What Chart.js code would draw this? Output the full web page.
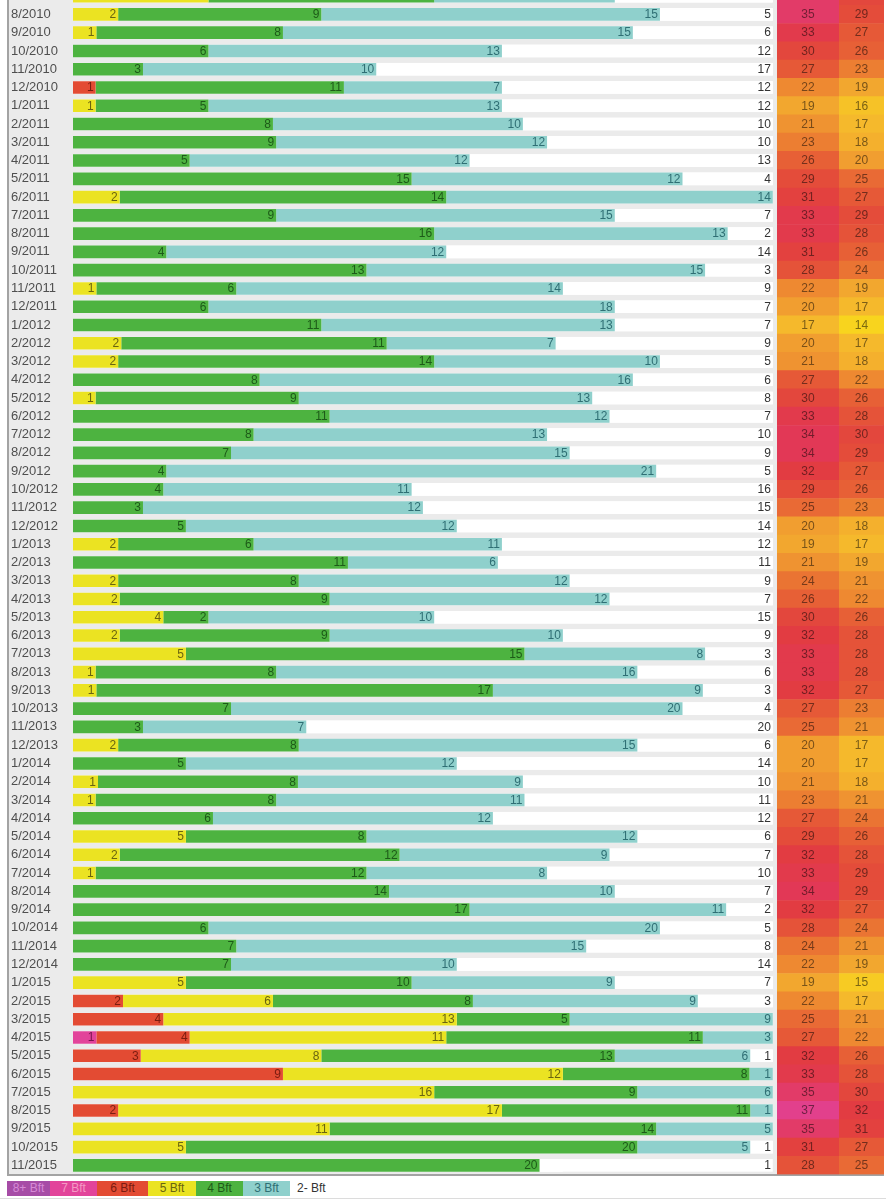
<!DOCTYPE html>
<html>
<head>
<meta charset="utf-8">
<title>Wind days per month</title>
<script src="https://cdn.jsdelivr.net/npm/chart.js@4.4.1/dist/chart.umd.min.js"></script>
<style>
  body { margin: 0; background: #fff; font-family: "Liberation Sans", Arial, sans-serif; }
  #wrap { position: relative; width: 886px; height: 1200px; overflow: hidden; }
  #frame { position: absolute; left: 7px; top: -5px; width: 874px; height: 1179px;
           background: #ebebeb; border-left: 2px solid #a3a3a3; border-bottom: 2px solid #a3a3a3; border-right: 1px solid #a3a3a3; }
  #box { position: absolute; left: 0; top: -13.4px; width: 886px; height: 1190px; }
  #legend { position: absolute; left: 7px; top: 1181px; height: 15px; font-size: 12px; line-height: 15px; white-space: nowrap; }
  #legend span { display: inline-block; width: 47px; text-align: center; }
  #legend span:nth-child(1) { width: 43px; }
  #legend span:nth-child(3) { width: 51px; }
  #legend span:nth-child(4) { width: 48px; }
  #legend span.plain { width: auto; padding-left: 7px; color: #333; }
  #rule { position: absolute; left: 0; top: 1198px; width: 886px; height: 1px; background: #dcdcdc; }
</style>
</head>
<body>
<div id="wrap">
  <div id="frame"></div>
  <div id="box"><canvas id="chart"></canvas></div>
  <div id="legend"></div>
  <div id="rule"></div>
</div>
<script>
const months = ["7/2010","8/2010","9/2010","10/2010","11/2010","12/2010",
  "1/2011","2/2011","3/2011","4/2011","5/2011","6/2011","7/2011","8/2011","9/2011","10/2011","11/2011","12/2011",
  "1/2012","2/2012","3/2012","4/2012","5/2012","6/2012","7/2012","8/2012","9/2012","10/2012","11/2012","12/2012",
  "1/2013","2/2013","3/2013","4/2013","5/2013","6/2013","7/2013","8/2013","9/2013","10/2013","11/2013","12/2013",
  "1/2014","2/2014","3/2014","4/2014","5/2014","6/2014","7/2014","8/2014","9/2014","10/2014","11/2014","12/2014",
  "1/2015","2/2015","3/2015","4/2015","5/2015","6/2015","7/2015","8/2015","9/2015","10/2015","11/2015"];

// days per month in each Beaufort class
const bft8 = [0,0,0,0,0,0, 0,0,0,0,0,0,0,0,0,0,0,0, 0,0,0,0,0,0,0,0,0,0,0,0,
  0,0,0,0,0,0,0,0,0,0,0,0, 0,0,0,0,0,0,0,0,0,0,0,0, 0,0,0,0,0,0,0,0,0,0,0];
const bft7 = [0,0,0,0,0,0, 0,0,0,0,0,0,0,0,0,0,0,0, 0,0,0,0,0,0,0,0,0,0,0,0,
  0,0,0,0,0,0,0,0,0,0,0,0, 0,0,0,0,0,0,0,0,0,0,0,0, 0,0,0,1,0,0,0,0,0,0,0];
const bft6 = [0,0,0,0,0,1, 0,0,0,0,0,0,0,0,0,0,0,0, 0,0,0,0,0,0,0,0,0,0,0,0,
  0,0,0,0,0,0,0,0,0,0,0,0, 0,0,0,0,0,0,0,0,0,0,0,0, 0,2,4,4,3,9,0,2,0,0,0];
const bft5 = [6,2,1,0,0,0, 1,0,0,0,0,2,0,0,0,0,1,0, 0,2,2,0,1,0,0,0,0,0,0,0,
  2,0,2,2,4,2,5,1,1,0,0,2, 0,1,1,0,5,2,1,0,0,0,0,0, 5,6,13,11,8,12,16,17,11,5,0];
const bft4 = [10,9,8,6,3,11, 5,8,9,5,15,14,9,16,4,13,6,6, 11,11,14,8,9,11,8,7,4,4,3,5,
  6,11,8,9,2,9,15,8,17,7,3,8, 5,8,8,6,8,12,12,14,17,6,7,7, 10,8,5,11,13,8,9,11,14,20,20];
const bft3 = [8,15,15,13,10,7, 13,10,12,12,12,14,15,13,12,15,14,18, 13,7,10,16,13,12,13,15,21,11,12,12,
  11,6,12,12,10,10,8,16,9,20,7,15, 12,9,11,12,12,9,8,10,11,20,15,10, 9,9,9,3,6,1,6,1,5,5,0];
const bft2 = [7,5,6,12,17,12, 12,10,10,13,4,0,7,2,14,3,9,7, 7,9,5,6,8,7,10,9,5,16,15,14,
  12,11,9,7,15,9,3,6,3,4,20,6, 14,10,11,12,6,7,10,7,2,5,8,14, 7,3,0,0,1,0,0,0,0,1,1];

// monthly temperatures, °C
const tMax = [35,35,33,30,27,22, 19,21,23,26,29,31,33,33,31,28,22,20, 17,20,21,27,30,33,34,34,32,29,25,20,
  19,21,24,26,30,32,33,33,32,27,25,20, 20,21,23,27,29,32,33,34,32,28,24,22, 19,22,25,27,32,33,35,37,35,31,28];
const tMin = [30,29,27,26,23,19, 16,17,18,20,25,27,29,28,26,24,19,17, 14,17,18,22,26,28,30,29,27,26,23,18,
  17,19,21,22,26,28,28,28,27,23,21,17, 17,18,21,24,26,28,29,29,27,24,21,19, 15,17,21,22,26,28,30,32,31,27,25];

const bftNames = ["8+ Bft", "7 Bft", "6 Bft", "5 Bft", "4 Bft", "3 Bft", "2- Bft"];
const bftSeries = [bft8, bft7, bft6, bft5, bft4, bft3, bft2];
const bftColors = ["#a64ca6", "#e2449a", "#e34b33", "#ebe322", "#4db340", "#8fd0cc", "#ffffff"];
const bftInk = ["#4e1a4e", "#7a1450", "#7a1c10", "#6a6410", "#1d5a18", "#2f6f74", "#333333"];
const legendInk = ["#d68ad6", "#f49ac4", "#7a1c10", "#6a6410", "#1d5a18", "#2f6f74", "#333333"];

const font = '"Liberation Sans", Arial, sans-serif';

const monthDays = months.map(m => {
  const [mo, yr] = m.split("/").map(Number);
  return new Date(yr, mo, 0).getDate();
});

const heatStops = [
  [14, [248, 212, 30]], [17, [245, 185, 44]], [20, [241, 158, 48]], [23, [236, 126, 50]],
  [26, [231, 96, 54]], [29, [228, 76, 58]], [32, [226, 60, 66]], [34, [226, 56, 86]], [37, [226, 64, 140]]
];
function heatRgb(t) {
  if (t <= heatStops[0][0]) return heatStops[0][1];
  for (let i = 1; i < heatStops.length; i++) {
    const [t1, c1] = heatStops[i];
    const [t0, c0] = heatStops[i - 1];
    if (t <= t1) {
      const f = (t - t0) / (t1 - t0);
      return c0.map((c, k) => Math.round(c + (c1[k] - c) * f));
    }
  }
  return heatStops[heatStops.length - 1][1];
}
const heatColor = t => "rgb(" + heatRgb(t).join(",") + ")";
const heatInk = t => "rgb(" + heatRgb(t).map(c => Math.round(c * 0.5)).join(",") + ")";

const datasets = bftSeries.map((s, i) => ({
  label: bftNames[i],
  data: s.map((v, j) => v / monthDays[j] * 100),
  raw: s,
  ink: bftInk[i],
  backgroundColor: bftColors[i],
  xAxisID: "x",
  stack: "bft",
  barPercentage: 0.69,
  categoryPercentage: 1
}));
[[tMax, "xHi"], [tMin, "xLo"]].forEach(([temps, axis]) => {
  datasets.push({
    label: axis,
    data: temps.map(() => 1),
    raw: temps,
    heat: true,
    backgroundColor: temps.map(heatColor),
    xAxisID: axis,
    grouped: false,
    barPercentage: 1,
    categoryPercentage: 1
  });
});

const segLabels = {
  id: "segLabels",
  beforeDatasetsDraw(chart) {
    // white row backdrop behind the stacked bars
    const ctx = chart.ctx, x = chart.scales.x;
    const x0 = x.getPixelForValue(0), x1 = x.getPixelForValue(100);
    ctx.save();
    ctx.fillStyle = "#ffffff";
    chart.getDatasetMeta(0).data.forEach(el => {
      ctx.fillRect(x0, el.y - el.height / 2, x1 - x0, el.height);
    });
    ctx.restore();
  },
  afterDatasetsDraw(chart) {
    const ctx = chart.ctx, x = chart.scales.x;
    const end = x.getPixelForValue(100);
    ctx.save();
    ctx.font = "12px " + font;
    ctx.textBaseline = "middle";
    chart.data.datasets.forEach((ds, i) => {
      const meta = chart.getDatasetMeta(i);
      meta.data.forEach((el, j) => {
        const v = ds.raw[j];
        if (!v) return;
        if (ds.heat) {
          ctx.textAlign = "center";
          ctx.fillStyle = heatInk(v);
          ctx.fillText(String(v), (el.x + el.base) / 2, el.y + 0.5);
        } else {
          ctx.textAlign = "right";
          ctx.fillStyle = ds.ink;
          const xe = i === 6 ? end : el.x;
          ctx.fillText(String(v), xe - 2, el.y + 0.5);
        }
      });
    });
    ctx.restore();
  }
};

const chart = new Chart(document.getElementById("chart"), {
  type: "bar",
  data: { labels: months, datasets: datasets },
  options: {
    indexAxis: "y",
    responsive: true,
    maintainAspectRatio: false,
    animation: false,
    layout: { padding: { left: 11, right: 2, top: 0, bottom: 2.5 } },
    plugins: { legend: { display: false }, tooltip: { enabled: false } },
    scales: {
      x: { type: "linear", min: 0, max: 100.6, stacked: true, display: false,
           position: "bottom", stack: "cols", stackWeight: 704, weight: 1 },
      xHi: { type: "linear", min: 0, max: 1, display: false,
             position: "bottom", stack: "cols", stackWeight: 62, weight: 2 },
      xLo: { type: "linear", min: 0, max: 1, display: false,
             position: "bottom", stack: "cols", stackWeight: 45, weight: 3 },
      y: {
        stacked: true,
        grid: { display: false },
        border: { display: false },
        ticks: { autoSkip: false, crossAlign: "far", color: "#4f4f4f", font: { size: 13, family: font } },
        afterFit(scale) {
          scale.width = 62;
          scale.paddingTop = 0;
          scale.paddingBottom = 0;
        }
      }
    }
  },
  plugins: [segLabels]
});

// legend boxes built from the chart's own datasets
const legend = document.getElementById("legend");
chart.data.datasets.slice(0, 7).forEach((ds, i) => {
  const s = document.createElement("span");
  s.textContent = ds.label;
  if (i === 6) {
    s.className = "plain";
  } else {
    s.style.background = ds.backgroundColor;
    s.style.color = legendInk[i];
  }
  legend.appendChild(s);
});
</script>
</body>
</html>
